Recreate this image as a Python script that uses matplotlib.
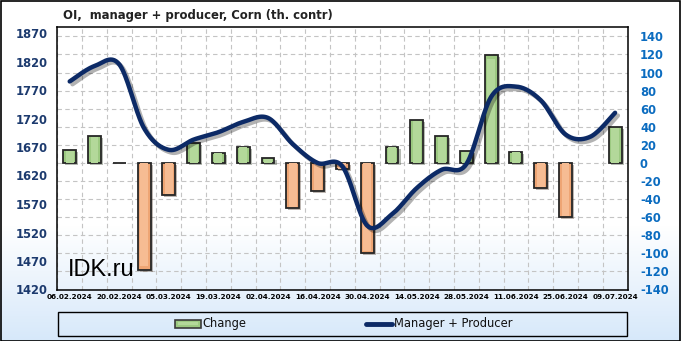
import numpy as np
import matplotlib
matplotlib.use("Agg")
import matplotlib.pyplot as plt
import matplotlib.patheffects as pe
from matplotlib.patches import Rectangle
from matplotlib.lines import Line2D

# ---------------- data ----------------
dates = ["06.02.2024", "13.02.2024", "20.02.2024", "27.02.2024", "05.03.2024",
         "12.03.2024", "19.03.2024", "26.03.2024", "02.04.2024", "09.04.2024",
         "16.04.2024", "23.04.2024", "30.04.2024", "07.05.2024", "14.05.2024",
         "21.05.2024", "28.05.2024", "04.06.2024", "11.06.2024", "18.06.2024",
         "25.06.2024", "02.07.2024", "09.07.2024"]
manager_producer = [1785, 1812, 1815, 1703, 1665, 1683, 1696, 1714, 1721, 1675,
                    1642, 1636, 1532, 1552, 1598, 1630, 1640, 1758, 1776, 1752,
                    1692, 1688, 1730]
change = [14, 30, 0, -118, -35, 22, 11, 18, 5, -50,
          -31, -7, -100, 18, 48, 30, 13, 119, 12, -28,
          -60, np.nan, 40]
left_ticks = [1420, 1470, 1520, 1570, 1620, 1670, 1720, 1770, 1820, 1870]
right_ticks = list(range(-140, 141, 20))
title = "OI,  manager + producer, Corn (th. contr)"

W, H = 681, 341
fig = plt.figure(figsize=(W / 100, H / 100), dpi=100)

# background gradient
bg = fig.add_axes([0, 0, 1, 1], zorder=-10)
rows = np.arange(H)
t = np.clip((rows - 225) / (H - 225), 0, 1)[:, None]
top = np.array([1.0, 1.0, 1.0])
bot = np.array([0.84, 0.91, 0.98])
grad = (top * (1 - t) + bot * t)[:, None, :]
bg.imshow(grad, aspect="auto", extent=[0, 1, 0, 1])
bg.axis("off")

# ---------------- bars (right scale) ----------------
ax = fig.add_axes([57.3 / W, 1 - 289.5 / H, (627.5 - 57.3) / W, (289.5 - 27.3) / H])
ax.set_facecolor("none")
x = np.arange(len(dates))
green, orange = "#9cc981", "#eea574"
green_l, orange_l = "#b3d89a", "#f6bc93"
chg = np.array(change, dtype=float)
cols = [green if (np.isnan(v) or v >= 0) else orange for v in chg]
cols_l = [green_l if (np.isnan(v) or v >= 0) else orange_l for v in chg]
ax.bar(x, chg, width=0.52, color=cols, edgecolor="#262626", linewidth=1.3, zorder=3,
       path_effects=[pe.SimplePatchShadow(offset=(1.5, -1.5), alpha=0.35), pe.Normal()])
ax.bar(x, chg * 0.97, width=0.32, color=cols_l, edgecolor="none", zorder=4)
ax.set_xlim(-0.5, len(dates) - 0.5)
ax.set_ylim(-140, 150)
ax.set_xticks(x[::2])
ax.set_xticklabels(dates[::2])
ax.tick_params(axis="x", length=0, pad=3, labelsize=5.2)
for lbl in ax.get_xticklabels():
    lbl.set_fontweight("bold")
ax.set_xticks(np.arange(-0.5, len(dates), 1), minor=True)
ax.tick_params(axis="x", which="minor", length=0)
ax.grid(which="minor", axis="x", color="#c4c4c4", linestyle=(0, (4, 3)), linewidth=0.8, zorder=0)
ax.grid(which="major", axis="y", color="#c4c4c4", linestyle=(0, (4, 3)), linewidth=0.8, zorder=0)
ax.grid(which="major", axis="x", visible=False)
ax.set_axisbelow(True)
for s in ax.spines.values():
    s.set_color("black")
    s.set_linewidth(1.1)

# ---------------- line (left scale) ----------------
axl = ax.twinx()
axl.yaxis.tick_left()
axl.set_ylim(1420, 1880)
axl.set_yticks(left_ticks)
axl.set_yticklabels([str(v) for v in left_ticks])
axl.tick_params(axis="y", length=0, pad=7, labelsize=8.3, labelcolor="#1c3a6e")
for lbl in axl.get_yticklabels():
    lbl.set_fontweight("bold")
for s in axl.spines.values():
    s.set_visible(False)

# right-hand scale labels for the bars (after twinx, which moves them)
ax.yaxis.tick_right()
ax.set_yticks(right_ticks)
ax.set_yticklabels([str(v) for v in right_ticks])
ax.tick_params(axis="y", length=0, pad=9, labelsize=8.3, labelcolor="#0b6cc0",
               left=False, labelleft=False, right=True, labelright=True)
for lbl in ax.get_yticklabels():
    lbl.set_fontweight("bold")
    lbl.set_horizontalalignment("left")

# smooth curve (Catmull-Rom style, as the spreadsheet smoothing)
px = x.astype(float)
py = np.array(manager_producer, dtype=float)
P = np.column_stack([px, py])
Pe = np.vstack([P[0], P, P[-1]])
curve = []
tt = np.linspace(0, 1, 30)
for i in range(len(P) - 1):
    p0, p1, p2, p3 = Pe[i], Pe[i + 1], Pe[i + 2], Pe[i + 3]
    c1 = p1 + (p2 - p0) / 6
    c2 = p2 - (p3 - p1) / 6
    seg = ((1 - tt) ** 3)[:, None] * p1 + (3 * (1 - tt) ** 2 * tt)[:, None] * c1 \
        + (3 * (1 - tt) * tt ** 2)[:, None] * c2 + (tt ** 3)[:, None] * p2
    curve.append(seg if i == 0 else seg[1:])
curve = np.vstack(curve)
axl.plot(curve[:, 0], curve[:, 1], color="#0c2a66", linewidth=3.2, solid_capstyle="round",
         zorder=5, path_effects=[pe.SimpleLineShadow(offset=(2, -2), alpha=0.3), pe.Normal()])

# ---------------- texts ----------------
fig.text(63 / W, 1 - 15 / H, title, ha="left", va="center", fontsize=8.4,
         fontweight="bold", color="#222222")
fig.text(68 / W, 1 - 276 / H, "IDK.ru", ha="left", va="baseline", fontsize=17,
         family="Liberation Sans", color="black")

# ---------------- legend ----------------
fig.patches.append(Rectangle((58 / W, 1 - 336 / H), (627 - 58) / W, (336 - 311.5) / H,
                             transform=fig.transFigure, fill=False, edgecolor="black",
                             linewidth=1.0))
ly = 1 - 323.5 / H
fig.patches.append(Rectangle((175 / W, 1 - 327.5 / H), 26 / W, 8 / H, transform=fig.transFigure,
                             facecolor=green, edgecolor="#3a3a3a", linewidth=1.2))
fig.patches.append(Rectangle((178 / W, 1 - 325 / H), 20 / W, 3 / H, transform=fig.transFigure,
                             facecolor=green_l, edgecolor="none"))
fig.text(202 / W, ly, "Change", ha="left", va="center", fontsize=8.3, color="#111111")
fig.lines.append(Line2D([366 / W, 392 / W], [ly, ly], transform=fig.transFigure,
                        color="#0c2a66", linewidth=3.5, solid_capstyle="round"))
fig.text(394 / W, ly, "Manager + Producer", ha="left", va="center", fontsize=8.3,
         color="#111111")

# outer border
fig.patches.append(Rectangle((0.5 / W, 0.5 / H), (W - 1.5) / W, (H - 1.5) / H,
                             transform=fig.transFigure, fill=False, edgecolor="black",
                             linewidth=1.2))

fig.savefig("out.png", dpi=100)
